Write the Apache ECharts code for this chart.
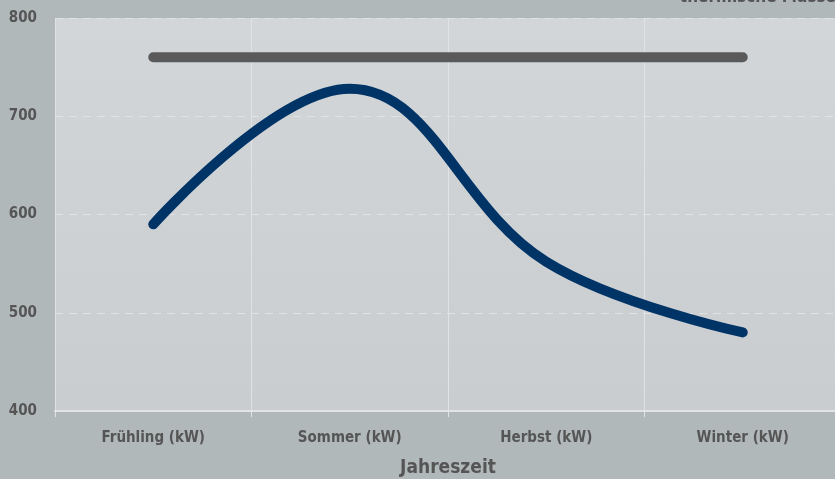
<!DOCTYPE html>
<html>
<head>
<meta charset="utf-8">
<script src="https://cdn.jsdelivr.net/npm/echarts@6/dist/echarts.min.js"></script>
<style>
  html, body { margin: 0; padding: 0; background: #b1b8ba; }
  #chart { width: 835px; height: 479px; }
</style>
</head>
<body>
<div id="chart"></div>
<script>
const seasons = ["Frühling (kW)", "Sommer (kW)", "Herbst (kW)", "Winter (kW)"];
const ohneMasse = [590, 728, 552, 480];
const mitMasse = [760, 760, 760, 760];

const font = "'Liberation Sans Narrow', 'DejaVu Sans Condensed', sans-serif";

const chart = echarts.init(document.getElementById("chart"));

chart.setOption({
  backgroundColor: "#b1b8ba",
  textStyle: { fontFamily: font },
  animation: false,
  title: {
    text: "thermische Masse",
    right: -6,
    top: -16,
    textStyle: { fontFamily: font, fontSize: 17, fontWeight: "bold", color: "#555" }
  },
  grid: {
    left: 55,
    right: -6,
    top: 18,
    bottom: 68,
    outerBoundsMode: "none",
    containLabel: false,
    show: true,
    borderWidth: 0,
    backgroundColor: new echarts.graphic.LinearGradient(0, 0, 0, 1, [
      { offset: 0, color: "#d2d6d9" },
      { offset: 1, color: "#c9cdd0" }
    ])
  },
  xAxis: {
    type: "category",
    data: seasons,
    boundaryGap: true,
    name: "Jahreszeit",
    nameLocation: "middle",
    nameGap: 48,
    nameTextStyle: { fontFamily: font, fontSize: 19, fontWeight: "bold", color: "#555" },
    axisLine: { lineStyle: { color: "#e2e4e6", width: 2 } },
    axisTick: { show: true, length: 6, lineStyle: { color: "#e2e4e6" } },
    axisLabel: { fontFamily: font, fontSize: 15, fontWeight: "bold", color: "#555", margin: 20 },
    splitLine: { show: true, lineStyle: { color: "#e0e2e4", width: 1 } }
  },
  yAxis: {
    type: "value",
    min: 400,
    max: 800,
    interval: 100,
    axisLine: { show: false },
    axisTick: { show: false },
    axisLabel: { fontFamily: font, fontSize: 15, fontWeight: "bold", color: "#555", margin: 18 },
    splitLine: { show: true, lineStyle: { color: "#e0e2e4", type: [8, 6], width: 1 } }
  },
  series: [
    {
      name: "mit thermische Masse",
      type: "line",
      data: mitMasse,
      showSymbol: false,
      lineStyle: { color: "#5a5a5a", width: 10, cap: "round" },
      z: 2
    },
    {
      name: "ohne thermische Masse",
      type: "line",
      data: ohneMasse,
      smooth: 0.4,
      showSymbol: false,
      lineStyle: { color: "#003366", width: 10, cap: "round" },
      z: 3
    }
  ]
});
</script>
</body>
</html>
